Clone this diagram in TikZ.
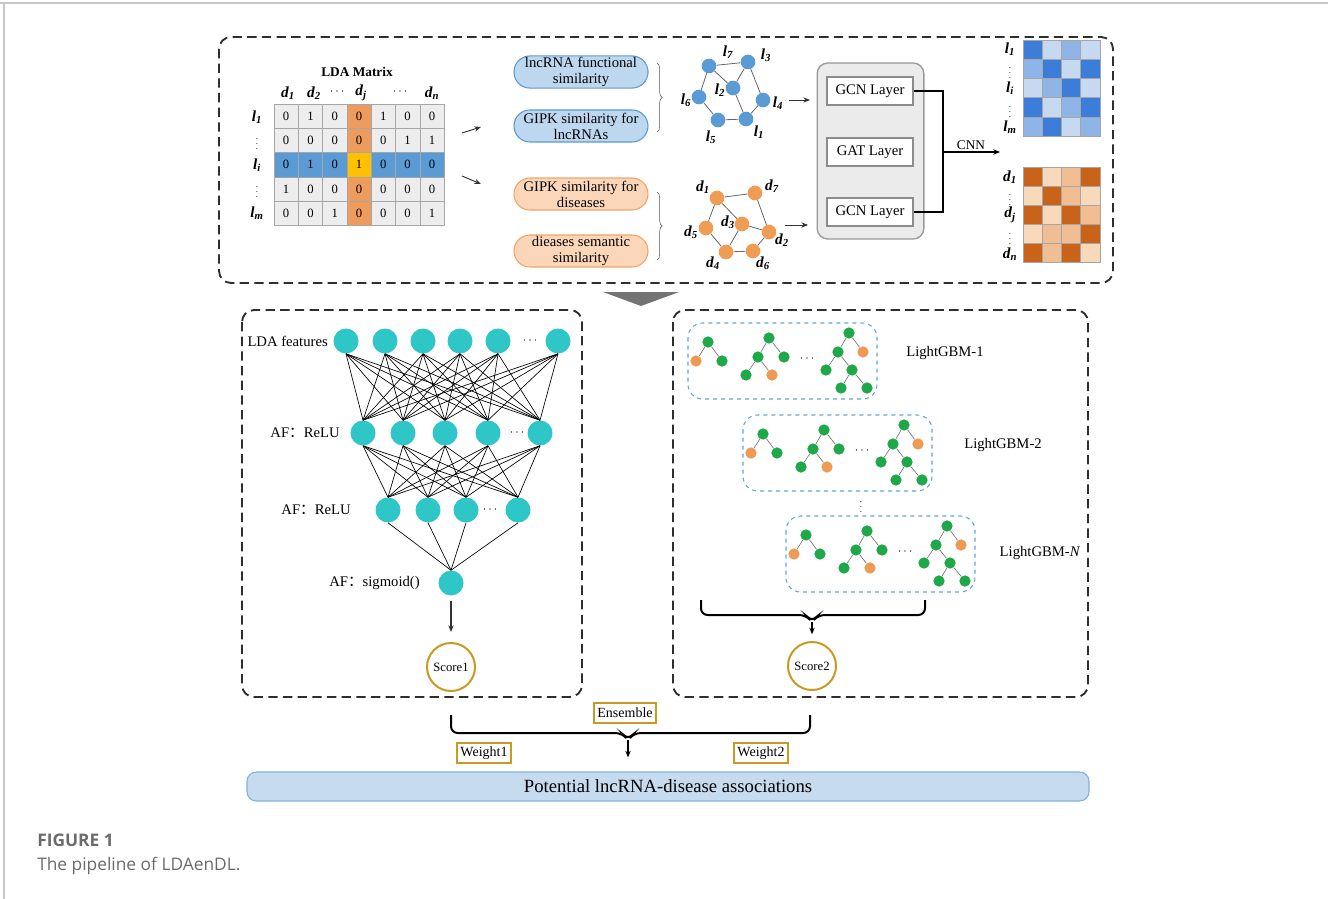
\documentclass[tikz,border=0pt]{standalone}
\usepackage{fontspec}
\setmainfont{Liberation Serif}
\newfontfamily\capfont{Open Sans}
\newfontfamily\cjk{Noto Sans CJK SC}
\usetikzlibrary{arrows.meta,positioning,decorations.pathreplacing}

\definecolor{dash_black}{HTML}{2E2E2E}
\definecolor{mat_gray}{HTML}{EDEDED}
\definecolor{mat_line}{HTML}{A6A6A6}
\definecolor{mat_blue}{HTML}{5B9BD5}
\definecolor{mat_orange}{HTML}{EE9B5E}
\definecolor{mat_yellow}{HTML}{FFC000}
\definecolor{simblue}{HTML}{BDD7EE}
\definecolor{simblue_line}{HTML}{5B9BD5}
\definecolor{simorange}{HTML}{FBD6B8}
\definecolor{simorange_line}{HTML}{F2A468}
\definecolor{node_blue}{HTML}{5B9BD5}
\definecolor{node_orange}{HTML}{EF9D55}
\definecolor{hb1}{HTML}{3B7DD8}
\definecolor{hb2}{HTML}{8EB4E8}
\definecolor{hb3}{HTML}{C6D9F1}
\definecolor{ho1}{HTML}{C9631A}
\definecolor{ho2}{HTML}{F0BE92}
\definecolor{ho3}{HTML}{F8D9BC}
\definecolor{teal_node}{HTML}{2EC6C6}
\definecolor{tree_green}{HTML}{1FA84A}
\definecolor{tree_orange}{HTML}{EE9A52}
\definecolor{gbm_blue}{HTML}{5AA6E6}
\definecolor{score_gold}{HTML}{C99A22}
\definecolor{bar_blue}{HTML}{C7DBEF}
\definecolor{bar_line}{HTML}{7FB2DE}
\definecolor{cap_gray}{HTML}{6B6B6B}

\newcommand{\blab}[2]{\textbf{\textit{#1\textsubscript{#2}}}}
\newcommand{\vdt}{{\fontsize{6.5}{6.5}\selectfont$\vdots$}}

\begin{document}
\begin{tikzpicture}
%Pipeline of LDAenDL
	[
	 	 %Styles
       x=0.75pt, y=-0.75pt,
       >={Stealth[length=5pt,width=4pt]},
       dash_box/.style={draw=dash_black, line width=1.4pt, dash pattern=on 7pt off 4pt, rounded corners=9pt},
       mat_num/.style={inner sep=0pt, font=\fontsize{9.5}{10}\selectfont},
       head_lab/.style={inner sep=0pt, font=\fontsize{11.5}{12}\selectfont},
       dot_lab/.style={inner sep=0pt},
       sim_blue_box/.style={rectangle, rounded corners=12pt, draw=simblue_line, fill=simblue, line width=0.8pt,
            minimum width=100.5pt, minimum height=24pt, inner sep=1pt, align=center, font=\fontsize{11}{12}\selectfont},
       sim_orange_box/.style={sim_blue_box, draw=simorange_line, fill=simorange},
       brace_thin/.style={draw=dash_black!80, decorate, decoration={brace, amplitude=4pt}},
       lnc_node/.style={circle, fill=node_blue, minimum size=11pt, inner sep=0pt},
       dis_node/.style={circle, fill=node_orange, minimum size=11pt, inner sep=0pt},
       graph_edge/.style={draw=black!60, line width=0.6pt},
       graph_lab/.style={inner sep=0pt, font=\fontsize{11.5}{12}\selectfont},
       small_arrow/.style={->, draw=black!80, line width=0.7pt},
       gcn_panel/.style={rectangle, rounded corners=8pt, draw=black!40, fill=black!8, line width=1pt,
            minimum width=80pt, minimum height=132pt},
       layer_box/.style={rectangle, draw=black!45, fill=white, line width=1pt, minimum width=64.5pt, minimum height=21pt,
            font=\fontsize{11}{12}\selectfont},
       cnn_line/.style={draw=black, line width=1.5pt},
       heat_line/.style={draw=black!35, line width=0.4pt},
       nn_node/.style={circle, fill=teal_node, minimum size=18.75pt, inner sep=0pt},
       nn_edge/.style={draw=black, line width=0.5pt},
       nn_lab/.style={anchor=east, inner sep=0pt, font=\fontsize{11}{12}\selectfont},
       dots_lab/.style={inner sep=0pt, font=\fontsize{9}{10}\selectfont},
       tree_g/.style={circle, fill=tree_green, minimum size=8.5pt, inner sep=0pt},
       tree_o/.style={circle, fill=tree_orange, minimum size=8.5pt, inner sep=0pt},
       tree_edge/.style={draw=black!55, line width=0.5pt},
       gbm_box/.style={draw=gbm_blue, line width=0.8pt, dashed, rounded corners=11pt},
       gbm_lab/.style={inner sep=0pt, font=\fontsize{11}{12}\selectfont},
       score_node/.style={circle, draw=score_gold, line width=1.5pt, minimum size=36pt, inner sep=0pt,
            font=\fontsize{9.5}{10}\selectfont},
       gold_box/.style={rectangle, draw=score_gold, line width=1.2pt, fill=white, inner sep=2.5pt, minimum height=15pt,
            font=\fontsize{10.5}{11}\selectfont},
       brace_thick/.style={draw=black, line width=1.5pt, rounded corners=5pt},
       bar_box/.style={rectangle, rounded corners=7pt, draw=bar_line, fill=bar_blue, line width=0.8pt,
            minimum width=631.5pt, minimum height=21.75pt, font=\fontsize{14}{15}\selectfont}
    ]
    \useasboundingbox (0,0) rectangle (1328,899);

    %Frame
    \draw[black!22, line width=1pt] (0,3) -- (1328,3) (4,3) -- (4,899);

    %Panels
    \draw[dash_box] (219,37) rectangle (1113,283);
    \draw[dash_box] (242,310) rectangle (582,697);
    \draw[dash_box] (673,310) rectangle (1088,697);
    \fill[black!55] (603,292) -- (679,292) -- (641,306) -- cycle;

    %LDA matrix
    \node[head_lab, font=\fontsize{10}{11}\selectfont\bfseries] (mat_title) at (357,72) {LDA Matrix};
    \fill[mat_gray] (274,104) rectangle (444.1,225.5);
    \fill[mat_blue] (274,152.6) rectangle (444.1,176.9);
    \fill[mat_orange] (346.9,104) rectangle (371.2,225.5);
    \fill[mat_yellow] (346.9,152.6) rectangle (371.2,176.9);
    \foreach \j in {0,...,7}
       \draw[mat_line] ({274+\j*24.3},104) -- ({274+\j*24.3},225.5);
    \foreach \i in {0,...,5}
       \draw[mat_line] (274,{104+\i*24.3}) -- (444.1,{104+\i*24.3});
    \foreach \row [count=\i] in {{0,1,0,0,1,0,0},{0,0,0,0,0,1,1},{0,1,0,1,0,0,0},{1,0,0,0,0,0,0},{0,0,1,0,0,0,1}}
       \foreach \v [count=\j] in \row
          \node[mat_num] (m-\i-\j) at ({274+(\j-0.5)*24.3},{104+(\i-0.5)*24.3}) {\v};
    \node[head_lab] (col1) at (288,93) {\blab{d}{1}};
    \node[head_lab] (col2) at (314,93) {\blab{d}{2}};
    \node[dots_lab] (col3) at (337,92) {$\cdots$};
    \node[head_lab] (colj) at (361,93) {\blab{d}{j}};
    \node[dots_lab] (col5) at (400,92) {$\cdots$};
    \node[head_lab] (coln) at (432,93) {\blab{d}{n}};
    \node[head_lab] (row1) at (257,117) {\blab{l}{1}};
    \node[dot_lab] (row2) at (257,140) {\vdt};
    \node[head_lab] (rowi) at (257,165) {\blab{l}{i}};
    \node[dot_lab] (row4) at (257,188) {\vdt};
    \node[head_lab] (rowm) at (257,213) {\blab{l}{m}};
    \coordinate (mat_up) at (462,133);
    \coordinate (mat_down) at (462,176);
    \draw[small_arrow] (mat_up) -- ++(19,-6);
    \draw[small_arrow] (mat_down) -- ++(19,8);

    %Similarity boxes
    \node[sim_blue_box] (sim_func) at (581,72) {lncRNA functional\\similarity};
    \node[sim_blue_box] (sim_gipl) at (581,126) {GIPK similarity for\\lncRNAs};
    \node[sim_orange_box] (sim_gipd) at (581,194) {GIPK similarity for\\diseases};
    \node[sim_orange_box] (sim_sem) at (581,251) {dieases semantic\\similarity};
    \draw[brace_thin] (657,63) -- (657,132);
    \draw[brace_thin] (657,192) -- (657,260);

    %lncRNA graph
    \node[lnc_node] (l7) at (709,66) {};
    \node[lnc_node] (l3) at (748,62) {};
    \node[lnc_node] (l2) at (733,88) {};
    \node[lnc_node] (l6) at (699,97) {};
    \node[lnc_node] (l4) at (763,100) {};
    \node[lnc_node] (l5) at (718,120) {};
    \node[lnc_node] (l1) at (746,119) {};
    \path[graph_edge] (l7) -- (l3) (l7) -- (l2) (l3) -- (l2) (l3) -- (l4) (l7) -- (l6)
       (l6) -- (l5) (l5) -- (l1) (l1) -- (l4) (l2) -- (l1);
    \node[graph_lab] (lab_l7) at (728,52) {\blab{l}{7}};
    \node[graph_lab] (lab_l3) at (766,55) {\blab{l}{3}};
    \node[graph_lab] (lab_l2) at (720,90) {\blab{l}{2}};
    \node[graph_lab] (lab_l6) at (686,100) {\blab{l}{6}};
    \node[graph_lab] (lab_l4) at (778,103) {\blab{l}{4}};
    \node[graph_lab] (lab_l5) at (711,137) {\blab{l}{5}};
    \node[graph_lab] (lab_l1) at (759,132) {\blab{l}{1}};

    %Disease graph
    \node[dis_node] (d1) at (717,198) {};
    \node[dis_node] (d7) at (755,193) {};
    \node[dis_node] (d3) at (742,224) {};
    \node[dis_node] (d5) at (706,228) {};
    \node[dis_node] (d2) at (769,232) {};
    \node[dis_node] (d4) at (726,252) {};
    \node[dis_node] (d6) at (753,251) {};
    \path[graph_edge] (d1) -- (d7) (d1) -- (d3) (d1) -- (d5) (d7) -- (d2) (d3) -- (d2)
       (d3) -- (d4) (d5) -- (d4) (d4) -- (d6) (d6) -- (d2);
    \node[graph_lab] (lab_d1) at (703,187) {\blab{d}{1}};
    \node[graph_lab] (lab_d7) at (772,186) {\blab{d}{7}};
    \node[graph_lab] (lab_d3) at (728,222) {\blab{d}{3}};
    \node[graph_lab] (lab_d5) at (691,232) {\blab{d}{5}};
    \node[graph_lab] (lab_d2) at (782,240) {\blab{d}{2}};
    \node[graph_lab] (lab_d4) at (713,263) {\blab{d}{4}};
    \node[graph_lab] (lab_d6) at (763,263) {\blab{d}{6}};
    \coordinate (lnc_out) at (789,100);
    \coordinate (dis_out) at (785,225);
    \draw[small_arrow] (lnc_out) -- ++(21,0);
    \draw[small_arrow] (dis_out) -- ++(23,0);

    %GCN / GAT
    \node[gcn_panel] (gcn_panel) at (870.5,151) {};
    \node[layer_box] (gcn1) at (870,91) {GCN Layer};
    \node[layer_box] (gat) at (870,152) {GAT Layer};
    \node[layer_box] (gcn2) at (870,212) {GCN Layer};
    \draw[cnn_line] (gcn1.east) -- ++(29,0) |- (gcn2.east);
    \coordinate (cnn_join) at (942,152);
    \coordinate (cnn_end) at (1000,152);
    \draw[cnn_line, line width=1.1pt, ->] (cnn_join) -- (cnn_end)
       node[midway, above=1.5pt, inner sep=0pt, font=\fontsize{10}{11}\selectfont] (cnn_lab) {CNN};

    %Embedding heat maps
    \foreach \row [count=\i] in {{1,3,2,3},{2,1,3,1},{3,2,1,3},{1,3,2,1},{2,1,3,2}}
       \foreach \c [count=\j] in \row
          \filldraw[fill=hb\c, heat_line] ({1023+(\j-1)*19.25},{40+(\i-1)*19.2}) rectangle ++(19.25,19.2);
    \foreach \row [count=\i] in {{1,3,2,1},{3,1,2,3},{1,3,1,2},{3,2,2,1},{1,2,1,3}}
       \foreach \c [count=\j] in \row
          \filldraw[fill=ho\c, heat_line] ({1023+(\j-1)*19.25},{167+(\i-1)*19}) rectangle ++(19.25,19);
    \node[head_lab] (hl1) at (1010,49) {\blab{l}{1}};
    \node[dot_lab] (hl2) at (1010,69) {\vdt};
    \node[head_lab] (hli) at (1010,88) {\blab{l}{i}};
    \node[dot_lab] (hl4) at (1010,108) {\vdt};
    \node[head_lab] (hlm) at (1010,127) {\blab{l}{m}};
    \node[head_lab] (hd1) at (1010,177) {\blab{d}{1}};
    \node[dot_lab] (hd2) at (1010,196) {\vdt};
    \node[head_lab] (hdj) at (1010,215) {\blab{d}{j}};
    \node[dot_lab] (hd4) at (1010,235) {\vdt};
    \node[head_lab] (hdn) at (1010,254) {\blab{d}{n}};

    %Neural network
    \foreach \x [count=\k] in {346,385,423,460,498,558}
       \node[nn_node] (in-\k) at (\x,341) {};
    \foreach \x [count=\k] in {363,403,445,488,540}
       \node[nn_node] (hid-\k) at (\x,433) {};
    \foreach \x [count=\k] in {388,428,466,518}
       \node[nn_node] (hidb-\k) at (\x,510) {};
    \node[nn_node] (out) at (451,583) {};
    \node[dots_lab] (in-dots) at (530,341) {$\cdots$};
    \node[dots_lab] (hid-dots) at (517,433) {$\cdots$};
    \node[dots_lab] (hidb-dots) at (490,510) {$\cdots$};
    \foreach \a in {1,...,6}
       \foreach \b in {1,...,5}
          \draw[nn_edge] (in-\a.south) -- (hid-\b.north);
    \foreach \a in {1,...,5}
       \foreach \b in {1,...,4}
          \draw[nn_edge] (hid-\a.south) -- (hidb-\b.north);
    \foreach \a in {1,...,4}
       \draw[nn_edge] (hidb-\a.south) -- (out.north);
    \node[nn_lab] (lab_in) at (328,341) {LDA features};
    \node[nn_lab] (lab_hid) at (340,433) {AF{\cjk ：}ReLU};
    \node[nn_lab] (lab_hidb) at (351,510) {AF{\cjk ：}ReLU};
    \node[nn_lab] (lab_out) at (420,583) {AF{\cjk ：}sigmoid()};
    \node[score_node] (score1) at (451,667) {Score1};
    \draw[->, draw=black!80, line width=0.8pt, shorten <=3.75pt, shorten >=7.5pt] (out.south) -- (score1.north);

    %LightGBM forests
    \foreach \k/\dx/\dy/\lx/\ly/\gname in {1/0/0/257/30/1, 2/55/92/260/30/2, 3/98/193/254/37/\textit{N}} {
       \begin{scope}[shift={(688+\dx,323+\dy)}]
          \draw[gbm_box] (0,0) rectangle (189,76);
          \node[tree_g] (t\k-a1) at (20,19) {};
          \node[tree_o] (t\k-a2) at (8,38) {};
          \node[tree_g] (t\k-a3) at (34,38) {};
          \node[tree_g] (t\k-b1) at (81,15) {};
          \node[tree_g] (t\k-b2) at (70,34) {};
          \node[tree_g] (t\k-b3) at (96,34) {};
          \node[tree_g] (t\k-b4) at (58,52) {};
          \node[tree_o] (t\k-b5) at (84,52) {};
          \node[dots_lab] (t\k-dots) at (119,36) {$\cdots$};
          \node[tree_g] (t\k-c1) at (161,10) {};
          \node[tree_g] (t\k-c2) at (150,29) {};
          \node[tree_o] (t\k-c3) at (175,29) {};
          \node[tree_g] (t\k-c4) at (138,47) {};
          \node[tree_g] (t\k-c5) at (164,47) {};
          \node[tree_g] (t\k-c6) at (153,65) {};
          \node[tree_g] (t\k-c7) at (179,65) {};
          \path[tree_edge] (t\k-a1) -- (t\k-a2) (t\k-a1) -- (t\k-a3)
             (t\k-b1) -- (t\k-b2) (t\k-b1) -- (t\k-b3) (t\k-b2) -- (t\k-b4) (t\k-b2) -- (t\k-b5)
             (t\k-c1) -- (t\k-c2) (t\k-c1) -- (t\k-c3) (t\k-c2) -- (t\k-c4) (t\k-c2) -- (t\k-c5)
             (t\k-c5) -- (t\k-c6) (t\k-c5) -- (t\k-c7);
          \node[gbm_lab] (gbm\k) at (\lx,\ly) {LightGBM-\gname};
       \end{scope}
    }
    \node[dot_lab] (gbm_vdots) at (861,503) {\vdt};
    \coordinate (gbm_tip) at (812,622);
    \draw[brace_thick] (701,600) -- (701,615) -- (806,615) -- (gbm_tip) -- (818,615) -- (925,615) -- (925,600);
    \node[score_node] (score2) at (812,666) {Score2};
    \draw[->, line width=1.5pt, shorten >=5pt] (gbm_tip) -- (score2.north);

    %Ensemble
    \node[gold_box] (ensemble) at (625,713) {Ensemble};
    \coordinate (ens_tip) at (628,740);
    \draw[brace_thick] (451,715) -- (451,733) -- (622,733) -- (ens_tip) -- (634,733) -- (810,733) -- (810,715);
    \node[gold_box] (weight1) at (484,753) {Weight1};
    \node[gold_box] (weight2) at (761,753) {Weight2};
    \node[bar_box] (assoc) at (668,786.5) {Potential lncRNA-disease associations};
    \draw[->, line width=1pt, shorten >=10.5pt] (ens_tip) -- (assoc.north -| ens_tip);

    %Caption
    \node[anchor=base west, inner sep=0pt, text=cap_gray, font=\capfont\bfseries\fontsize{13}{15}\selectfont] (cap_num) at (37,846) {FIGURE 1};
    \node[anchor=base west, inner sep=0pt, text=cap_gray, font=\capfont\fontsize{13}{15}\selectfont] (cap_text) at (37,870) {The pipeline of LDAenDL.};
\end{tikzpicture}
\end{document}
